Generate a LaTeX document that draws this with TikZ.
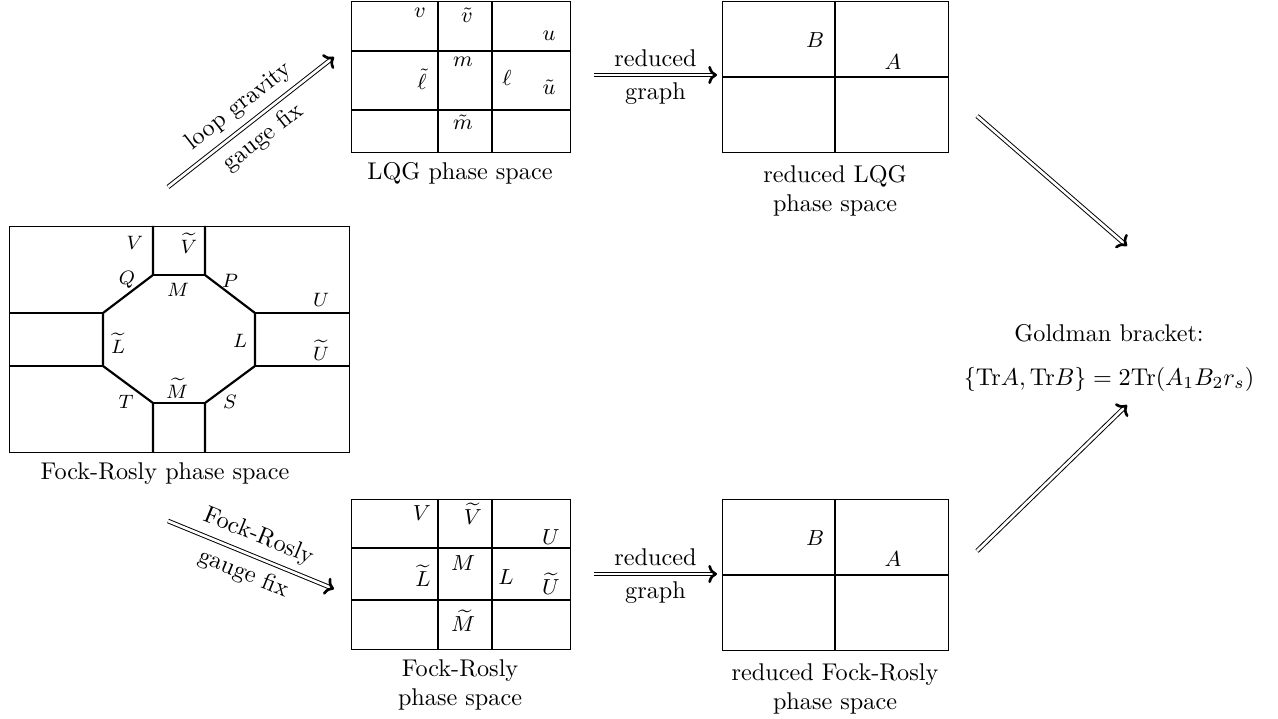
\documentclass[tikz,border=0pt]{standalone}
\usetikzlibrary{arrows.meta}
\begin{document}
\begin{tikzpicture}[x=0.413pt,y=-0.413pt,
  frame/.style={line width=0.4pt, draw, inner sep=0pt, anchor=north west},
  grid/.style={line width=0.9pt},
  lab/.style={font=\small, inner sep=0pt},
  olab/.style={font=\footnotesize, inner sep=0pt},
  captxt/.style={align=center, inner sep=0pt},
  dbl/.style={double, double distance=1.1pt, line width=0.4pt, -{To[length=3.6pt,width=7.5pt,line width=1.1pt]}}]
\useasboundingbox (0,0) rectangle (1278,719);

% ---------- Fock-Rosly phase space (octagon) ----------
\node[frame, minimum width=340*0.413pt, minimum height=226*0.413pt] (fr) at (9,226) {};
\draw[grid] (153,226) -- (153,275) -- (103,313) -- (103,366) -- (153,403) -- (153,452);
\draw[grid] (205,226) -- (205,275) -- (255,313) -- (255,366) -- (205,403) -- (205,452);
\draw[grid] (153,275) -- (205,275);
\draw[grid] (153,403) -- (205,403);
\draw[grid] (9,313) -- (103,313); \draw[grid] (9,366) -- (103,366);
\draw[grid] (255,313) -- (349,313); \draw[grid] (255,366) -- (349,366);
\node[olab] (fV) at (135,243) {$V$};
\node[olab] (fVt) at (189,243) {$\widetilde{V}$};
\node[olab] (fQ) at (127,280) {$Q$};
\node[olab] (fM) at (178,290) {$M$};
\node[olab] (fP) at (230,281) {$P$};
\node[olab] (fU) at (321,300) {$U$};
\node[olab] (fL) at (240,341) {$L$};
\node[olab] (fUt) at (321,350) {$\widetilde{U}$};
\node[olab] (fLt) at (118,343) {$\widetilde{L}$};
\node[olab] (fMt) at (177,388) {$\widetilde{M}$};
\node[olab] (fT) at (126,402) {$T$};
\node[olab] (fS) at (230,402) {$S$};
\node[captxt] (frcap) at (165,474) {Fock-Rosly phase space};

% ---------- LQG phase space ----------
\node[frame, minimum width=219*0.413pt, minimum height=151*0.413pt] (lqg) at (351,1) {};
\draw[grid] (438,1) -- (438,152); \draw[grid] (492,1) -- (492,152);
\draw[grid] (351,51) -- (570,51); \draw[grid] (351,110) -- (570,110);
\node[lab] (lv) at (420,13) {$v$};
\node[lab] (lvt) at (467,15) {$\tilde{v}$};
\node[lab] (lu) at (549,36) {$u$};
\node[lab] (lm) at (463,62) {$m$};
\node[lab] (llt) at (422,79) {$\tilde{\ell}$};
\node[lab] (ll) at (507,78) {$\ell$};
\node[lab] (lut) at (549,87) {$\tilde{u}$};
\node[lab] (lmt) at (463,122) {$\tilde{m}$};
\node[captxt] (lqgcap) at (460,173) {LQG phase space};

% ---------- Fock-Rosly small ----------
\node[frame, minimum width=219*0.413pt, minimum height=150*0.413pt] (frs) at (351,499) {};
\draw[grid] (438,499) -- (438,649); \draw[grid] (492,499) -- (492,649);
\draw[grid] (351,548) -- (570,548); \draw[grid] (351,600) -- (570,600);
\node[lab] (sV) at (422,513) {$V$};
\node[lab] (sVt) at (473,514) {$\widetilde{V}$};
\node[lab] (sU) at (551,537) {$U$};
\node[lab] (sM) at (463,563) {$M$};
\node[lab] (sLt) at (423,576) {$\widetilde{L}$};
\node[lab] (sL) at (506,577) {$L$};
\node[lab] (sUt) at (551,584) {$\widetilde{U}$};
\node[lab] (sMt) at (463,621) {$\widetilde{M}$};
\node[captxt] (frscap) at (460,685) {Fock-Rosly\\phase space};

% ---------- reduced LQG ----------
\node[frame, minimum width=226*0.413pt, minimum height=151*0.413pt] (rl) at (722,1) {};
\draw[grid] (835,1) -- (835,152); \draw[grid] (722,77) -- (948,77);
\node[lab] (rB) at (815,40) {$B$};
\node[lab] (rA) at (893,62) {$A$};
\node[captxt] (rlcap) at (835,191) {reduced LQG\\phase space};

% ---------- reduced FR ----------
\node[frame, minimum width=226*0.413pt, minimum height=151*0.413pt] (rf) at (722,499) {};
\draw[grid] (835,499) -- (835,650); \draw[grid] (722,575) -- (948,575);
\node[lab] (sB) at (815,538) {$B$};
\node[lab] (sA) at (893,559) {$A$};
\node[captxt] (rfcap) at (835,689) {reduced Fock-Rosly\\phase space};

% ---------- Goldman ----------
\node[captxt] (gold) at (1109,333) {Goldman bracket:};
\node[captxt] (goldf) at (1109,379) {$\{\mathrm{Tr}A,\mathrm{Tr}B\}=2\mathrm{Tr}(A_1B_2r_s)$};

% ---------- arrows ----------
\coordinate (a1s) at (168,187); \coordinate (a1e) at (334,57);
\coordinate (a2s) at (168,521); \coordinate (a2e) at (334,589);
\coordinate (a3s) at (594,75); \coordinate (a3e) at (717,75);
\coordinate (a4s) at (594,574); \coordinate (a4e) at (717,574);
\coordinate (a5s) at (977,116); \coordinate (a5e) at (1127,246);
\coordinate (a6s) at (977,551); \coordinate (a6e) at (1127,405);
\draw[dbl] (a1s) -- node[midway, above, sloped, inner sep=3.5pt] {loop gravity} node[midway, below, sloped, inner sep=3.5pt] {gauge fix} (a1e);
\draw[dbl] (a2s) -- node[midway, above, sloped, inner sep=3.5pt] {Fock-Rosly} node[midway, below, sloped, inner sep=3.5pt] {gauge fix} (a2e);
\draw[dbl] (a3s) -- node[midway, above, inner sep=3pt] {reduced} node[midway, below, inner sep=3pt] {graph} (a3e);
\draw[dbl] (a4s) -- node[midway, above, inner sep=3pt] {reduced} node[midway, below, inner sep=3pt] {graph} (a4e);
\draw[dbl] (a5s) -- (a5e);
\draw[dbl] (a6s) -- (a6e);
\end{tikzpicture}
\end{document}
